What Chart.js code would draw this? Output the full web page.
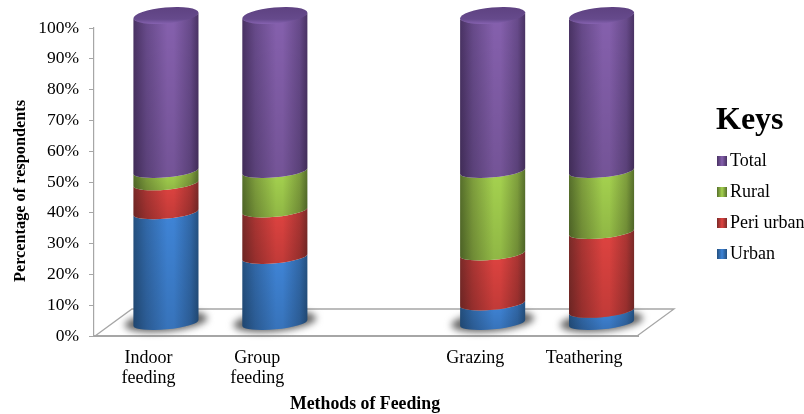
<!DOCTYPE html>
<html>
<head>
<meta charset="utf-8">
<style>
  body { margin: 0; background: #fff; }
  #wrap { position: relative; width: 804px; height: 414px; }
</style>
<script src="https://cdn.jsdelivr.net/npm/chart.js@4"></script>
</head>
<body>
<div id="wrap"><canvas id="feedingChart"></canvas></div>
<script>
const categories = [['Indoor', 'feeding'], ['Group', 'feeding'], '', 'Grazing', 'Teathering'];
const urban = [36.1, 21.6, null, 6.5, 4.1];
const periUrban = [9.4, 15.1, null, 16.2, 25.6];
const rural = [4.0, 12.8, null, 26.8, 19.8];
const total = [50.5, 50.5, null, 50.5, 50.5];
const keyOrder = ['Total', 'Rural', 'Peri urban', 'Urban'];

const FONT = '"Liberation Serif", "Times New Roman", serif';
const AXIS_GREY = '#a6a6a6';

// edge, mid, highlight
const shades = {
    Urban: ['#24507f', '#3168a8', '#3f84d6'],
    'Peri urban': ['#7a2a28', '#ab3533', '#de4340'],
    Rural: ['#566f2b', '#7f9f3d', '#a5d24f'],
    Total: ['#493263', '#674a8a', '#8560ad']
};

const TILT = -5.2 * Math.PI / 180;
const MINOR = 6.3;
const CAP_MINOR = 8;
const DEPTH_X = 17.5;
const DEPTH_Y = 12.5;

function bodyGradient(ctx, left, right, c) {
    const g = ctx.createLinearGradient(left, 0, right, 0);
    g.addColorStop(0, c[0]);
    g.addColorStop(0.2, c[1]);
    g.addColorStop(0.52, c[2]);
    g.addColorStop(0.62, c[2]);
    g.addColorStop(0.88, c[1]);
    g.addColorStop(1, c[0]);
    return g;
}

function drawSegment(ctx, cx, yTop, yBottom, a, c) {
    ctx.beginPath();
    ctx.ellipse(cx, yBottom, a, MINOR, TILT, Math.PI, 0, true);
    ctx.ellipse(cx, yTop, a, MINOR, TILT, 0, Math.PI, false);
    ctx.closePath();
    ctx.fillStyle = bodyGradient(ctx, cx - a, cx + a, c);
    ctx.fill();
    const shade = ctx.createLinearGradient(0, yTop, 0, yBottom + MINOR);
    shade.addColorStop(0, 'rgba(0,0,0,0)');
    shade.addColorStop(1, 'rgba(0,0,0,0.13)');
    ctx.fillStyle = shade;
    ctx.fill();
}

const cylinders = {
    id: 'cylinders',
    beforeDatasetDraw() {
        return false;
    },
    beforeDatasetsDraw(chart) {
        const { ctx, chartArea } = chart;
        const x0 = chartArea.left + 1, x1 = chartArea.right - 1.5, b = chartArea.bottom;
        // floor of the 3d box
        ctx.save();
        ctx.strokeStyle = AXIS_GREY;
        ctx.lineWidth = 1.3;
        ctx.beginPath();
        ctx.moveTo(x0, b);
        ctx.lineTo(x0 + 37, b - 27);
        ctx.lineTo(x1 + 37, b - 27);
        ctx.lineTo(x1, b);
        ctx.stroke();
        ctx.restore();
    },
    afterDatasetsDraw(chart) {
        const { ctx } = chart;
        const metas = chart.data.datasets.map((d, i) => chart.getDatasetMeta(i));
        metas[0].data.forEach((el, idx) => {
            if (urban[idx] === null) return;
            const cx = el.x + DEPTH_X;
            const a = el.width / 2;
            ctx.save();
            ctx.filter = 'blur(3.5px)';
            ctx.fillStyle = '#666';
            ctx.beginPath();
            ctx.ellipse(cx, el.base - DEPTH_Y - 1.5, a + 9, 10, TILT, 0, Math.PI * 2);
            ctx.fill();
            ctx.restore();
        });
        metas.forEach((meta, i) => {
            const ds = chart.data.datasets[i];
            meta.data.forEach((el, idx) => {
                if (ds.data[idx] === null) return;
                drawSegment(ctx, el.x + DEPTH_X, el.y - DEPTH_Y, el.base - DEPTH_Y, el.width / 2, shades[ds.label]);
            });
        });
        // top caps
        const last = metas[metas.length - 1];
        last.data.forEach((el, idx) => {
            if (total[idx] === null) return;
            const cx = el.x + DEPTH_X, cy = el.y - DEPTH_Y, a = el.width / 2;
            ctx.beginPath();
            ctx.ellipse(cx, cy, a, CAP_MINOR, TILT, 0, Math.PI * 2);
            const g = ctx.createLinearGradient(0, cy - CAP_MINOR - 2, 0, cy + CAP_MINOR + 1);
            g.addColorStop(0, '#5d4180');
            g.addColorStop(0.72, '#664a8c');
            g.addColorStop(1, '#8a65b5');
            ctx.fillStyle = g;
            ctx.fill();
        });
    },
    afterDraw(chart) {
        const { ctx } = chart;
        ctx.save();
        ctx.fillStyle = '#000';
        ctx.textBaseline = 'middle';
        ctx.textAlign = 'center';

        ctx.font = 'bold 16.3px ' + FONT;
        ctx.save();
        ctx.translate(20.5, 191);
        ctx.rotate(-Math.PI / 2);
        ctx.fillText('Percentage of respondents', 0, 0);
        ctx.restore();

        ctx.font = 'bold 17.8px ' + FONT;
        ctx.fillText('Methods of Feeding', 365, 404);

        // keys
        ctx.textAlign = 'left';
        ctx.font = 'bold 32px ' + FONT;
        ctx.fillText('Keys', 716, 121);
        ctx.font = '18px ' + FONT;
        keyOrder.forEach((name, i) => {
            const y = 161 + i * 31;
            const c = shades[name];
            const g = ctx.createLinearGradient(717, 0, 727, 0);
            g.addColorStop(0, c[0]);
            g.addColorStop(0.5, c[2]);
            g.addColorStop(1, c[0]);
            ctx.fillStyle = g;
            ctx.fillRect(717, y - 5, 10, 10);
            ctx.fillStyle = '#000';
            ctx.fillText(name, 730, y);
        });
        ctx.restore();
    }
};

function makeSet(label, values) {
    return { label: label, data: values, backgroundColor: shades[label][2], stack: 'all' };
}

new Chart(document.getElementById('feedingChart'), {
    type: 'bar',
    data: {
        labels: categories,
        datasets: [
            makeSet('Urban', urban),
            makeSet('Peri urban', periUrban),
            makeSet('Rural', rural),
            makeSet('Total', total)
        ]
    },
    plugins: [cylinders],
    options: {
        responsive: true,
        maintainAspectRatio: false,
        animation: false,
        layout: { padding: { top: 28, right: 165.5, bottom: 0, left: 0 } },
        datasets: { bar: { barPercentage: 0.6, categoryPercentage: 1 } },
        plugins: {
            legend: { display: false },
            tooltip: { enabled: false }
        },
        scales: {
            x: {
                stacked: true,
                afterFit: scale => { scale.height = 78; },
                grid: { display: false },
                border: { color: AXIS_GREY, width: 2 },
                ticks: { color: '#000', font: { family: FONT, size: 18, lineHeight: 1.07 }, padding: 5, maxRotation: 0, autoSkip: false }
            },
            y: {
                stacked: true,
                min: 0,
                max: 100,
                afterFit: scale => { scale.width = 94; },
                grid: { drawOnChartArea: false, color: AXIS_GREY, tickLength: 5 },
                border: { color: AXIS_GREY, width: 1.2 },
                ticks: {
                    stepSize: 10,
                    color: '#000',
                    padding: 10,
                    font: { family: FONT, size: 17.5 },
                    callback: v => v + '%'
                }
            }
        }
    }
});
</script>
</body>
</html>
